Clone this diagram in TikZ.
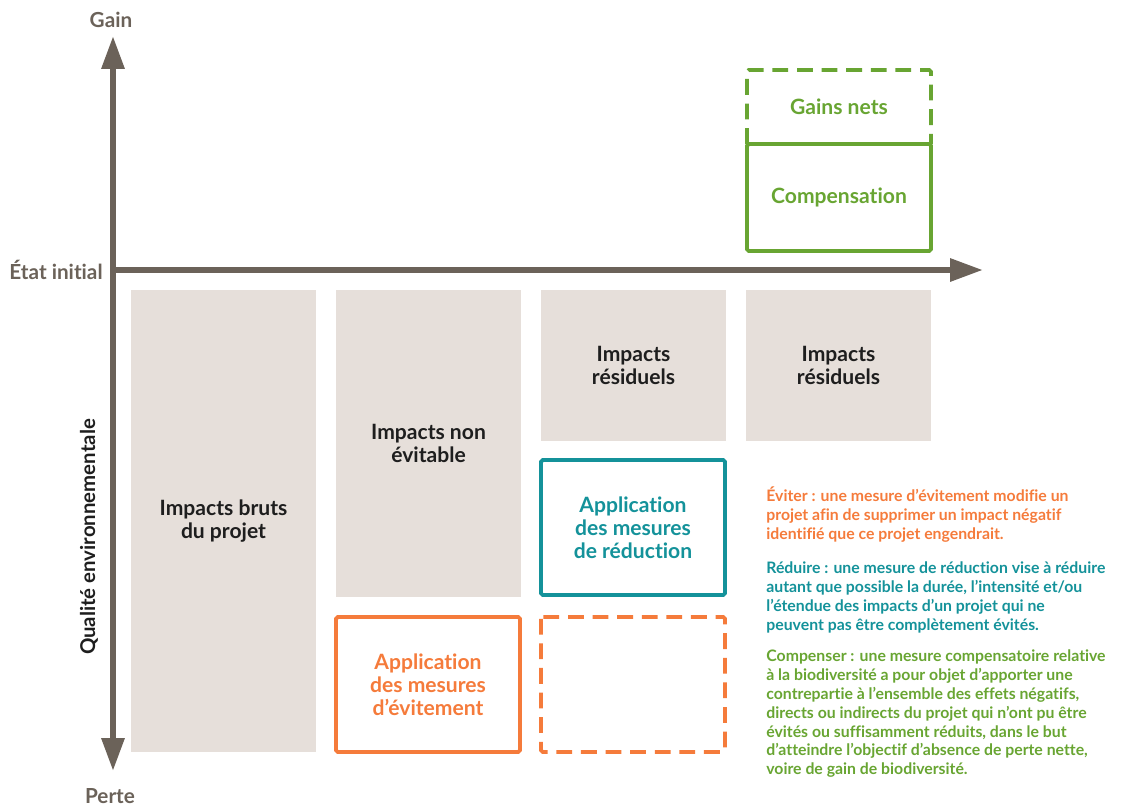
\documentclass[tikz,border=0pt]{standalone}
\usepackage{fontspec}
\setmainfont{Lato}[Ligatures=NoCommon]
\usepackage{tikz}
\usetikzlibrary{arrows.meta, calc, positioning}
\usepackage{xcolor}
\definecolor{eInk}{HTML}{1E1E1E}
\definecolor{eAxis}{HTML}{6B6259}
\definecolor{eSand}{HTML}{E6DFDA}
\definecolor{eOrange}{HTML}{F57B3B}
\definecolor{eTeal}{HTML}{14929A}
\definecolor{eGreen}{HTML}{68A532}

\begin{document}
\begin{tikzpicture}[x=0.02cm, y=-0.02cm, font=\bfseries,
  >={Triangle[length=0.66cm, width=0.44cm]},
  axis/.style={eAxis, line width=3.5pt},
  sandbox/.style={fill=eSand, draw=none},
  framebox/.style={line width=2.2pt, rounded corners=1pt},
  dashbox/.style={framebox, dash pattern=on 9pt off 5pt},
  boxtext/.style={align=center, font=\bfseries\fontsize{12}{13}\selectfont},
  axistext/.style={eAxis, font=\bfseries\fontsize{11.8}{13}\selectfont},
  legend/.style={anchor=north west, inner sep=0pt, align=left,
                 font=\bfseries\fontsize{9}{10.8}\selectfont}]
  \useasboundingbox (0,0) rectangle (1144,809);
  % axes
  \draw[axis, <->] (113,771) -- (113,36);
  \draw[axis, ->] (111,270) -- (983,270);
  \node[axistext] (gain) at (111,20) {Gain};
  \node[axistext, inner sep=0pt] (perte) at (110,796) {Perte};
  \node[axistext, anchor=east, inner sep=0pt] (etat) at (103,270) {État initial};
  \node[eInk, rotate=90, font=\bfseries\fontsize{11.6}{13}\selectfont] (qualite) at (89,537) {Qualité environnementale};
  % impacts
  \fill[sandbox] (131,290) rectangle (316,752) node[midway, boxtext, eInk] (bruts) {Impacts bruts\\du projet};
  \fill[sandbox] (336,290) rectangle (521,597) node[midway, boxtext, eInk] (nonevit) {Impacts non\\évitable};
  \fill[sandbox] (541,290) rectangle (726,441) node[midway, boxtext, eInk] (resid1) {Impacts\\résiduels};
  \fill[sandbox] (746,290) rectangle (931,441) node[midway, boxtext, eInk] (resid2) {Impacts\\résiduels};
  % mesures
  \draw[framebox, eTeal] (541,460) rectangle (725,595) node[midway, boxtext, eTeal] (reduc) {Application\\des mesures\\de réduction};
  \draw[framebox, eOrange] (336,617) rectangle (520,752) node[midway, boxtext, eOrange] (evit) {Application\\des mesures\\d’évitement};
  \draw[dashbox, eOrange] (541,617) rectangle (725,752);
  \draw[dashbox, eGreen] (747,144) -- (747,70) -- (931,70) -- (931,144);
  \node[boxtext, eGreen] (gains) at (839,107) {Gains nets};
  \draw[framebox, eGreen] (747,144) rectangle (931,251) node[midway, boxtext, eGreen] (comp) {Compensation};
  % definitions
  \node[legend, eOrange] (eviter) at (766,486) {Éviter : une mesure d’évitement modifie un\\projet afin de supprimer un impact négatif\\identifié que ce projet engendrait.};
  \node[legend, eTeal] (reduire) at (766,561) {Réduire : une mesure de réduction vise à réduire\\autant que possible la durée, l’intensité et/ou\\l’étendue des impacts d’un projet qui ne\\peuvent pas être complètement évités.};
  \node[legend, eGreen] (compenser) at (766,649) {Compenser : une mesure compensatoire relative\\à la biodiversité a pour objet d’apporter une\\contrepartie à l’ensemble des effets négatifs,\\directs ou indirects du projet qui n’ont pu être\\évités ou suffisamment réduits, dans le but\\d’atteindre l’objectif d’absence de perte nette,\\voire de gain de biodiversité.};
\end{tikzpicture}
\end{document}
